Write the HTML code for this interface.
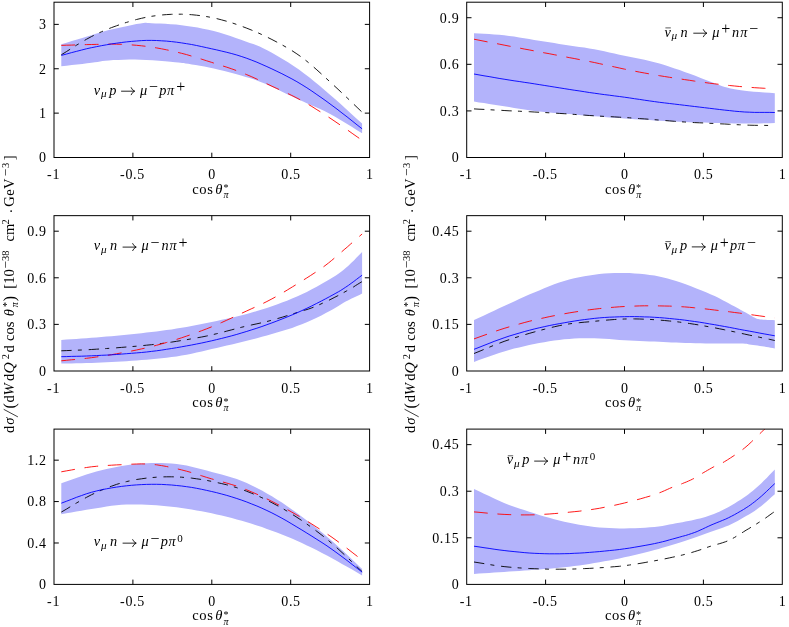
<!DOCTYPE html>
<html><head><meta charset="utf-8"><title>chart</title>
<style>html,body{margin:0;padding:0;background:#fff}svg{display:block;will-change:transform}</style></head><body>
<svg width="789" height="627" viewBox="0 0 789 627" font-family="Liberation Serif, serif" font-size="14.0" fill="#000">
<rect width="789" height="627" fill="#fff"/>
<clipPath id="c00"><rect x="54.0" y="2.2" width="315.6" height="155.30"/></clipPath>
<g clip-path="url(#c00)">
<polygon points="61.3,44.3 66.5,42.7 71.8,41.1 77.1,39.5 82.3,37.9 87.1,36.5 91.4,35.2 94.9,34.1 97.6,33.2 100.1,32.4 102.5,31.7 105.3,30.9 108.9,30.0 113.6,28.9 119.2,27.7 125.2,26.4 131.0,25.2 136.4,24.1 140.6,23.4 143.4,23.0 145.1,22.8 146.2,22.8 147.2,22.9 148.8,23.0 151.5,23.2 155.4,23.4 160.0,23.6 165.2,23.8 170.7,24.2 176.2,24.6 181.6,25.2 186.8,25.9 192.2,26.7 197.6,27.6 203.0,28.7 208.4,29.8 213.8,31.1 219.3,32.6 224.8,34.3 230.4,36.1 235.8,38.0 241.0,39.8 245.7,41.5 249.8,42.9 253.3,44.1 256.5,45.3 259.7,46.6 263.1,48.2 267.2,50.2 271.9,52.8 277.0,55.7 282.5,58.9 288.0,62.3 293.6,65.9 298.9,69.6 304.1,73.4 309.2,77.3 314.3,81.4 319.3,85.6 324.5,89.9 329.7,94.4 335.0,99.0 340.4,103.8 345.8,108.7 351.2,113.7 356.7,118.7 362.1,123.6 362.1,133.2 356.7,129.9 351.3,126.6 345.9,123.2 340.5,119.9 335.1,116.8 329.7,113.8 324.4,111.1 319.0,108.6 313.7,106.2 308.4,103.9 303.1,101.6 297.8,99.2 292.3,96.6 286.7,93.9 281.1,91.2 275.7,88.6 270.5,86.2 265.9,84.1 262.0,82.5 258.7,81.2 255.8,80.1 252.9,79.1 249.6,78.1 245.7,76.9 241.0,75.5 235.7,74.1 230.1,72.6 224.4,71.1 218.9,69.8 213.8,68.6 209.0,67.6 204.4,66.6 199.9,65.8 195.7,65.0 191.8,64.4 188.3,63.8 185.6,63.4 183.7,63.1 182.2,62.9 180.5,62.7 178.3,62.5 175.0,62.2 170.5,61.8 165.0,61.3 158.9,60.8 152.6,60.3 146.4,59.9 140.6,59.7 135.0,59.6 129.3,59.6 123.7,59.7 118.3,59.9 113.3,60.1 108.9,60.4 105.3,60.7 102.5,61.0 100.1,61.4 97.6,61.9 94.9,62.3 91.4,62.8 87.1,63.3 82.3,63.9 77.1,64.5 71.8,65.1 66.5,65.7 61.3,66.3" fill="#b3b3fb"/>
<polyline points="61.3,54.8 66.3,51.7 71.3,48.5 76.3,45.3 81.4,42.3 86.4,39.3 91.4,36.6 96.4,34.1 101.4,31.8 106.5,29.6 111.5,27.6 116.5,25.8 121.5,24.0 126.5,22.4 131.5,20.9 136.5,19.5 141.5,18.3 146.5,17.2 151.5,16.3 156.5,15.6 161.5,15.0 166.5,14.6 171.6,14.3 176.6,14.2 181.6,14.2 186.6,14.4 191.6,14.7 196.6,15.2 201.7,15.8 206.7,16.6 211.7,17.5 216.7,18.6 221.7,19.9 226.8,21.3 231.8,22.8 236.8,24.5 241.8,26.3 246.8,28.2 251.8,30.2 256.9,32.3 261.9,34.6 266.9,37.0 271.9,39.5 276.9,42.1 281.9,44.8 286.9,47.6 291.9,50.6 296.9,53.9 301.9,57.4 306.9,61.3 311.9,65.5 316.9,69.9 322.0,74.5 327.0,79.1 332.0,83.7 337.0,88.3 342.0,93.0 347.1,97.8 352.1,102.6 357.1,107.4 362.1,112.2" fill="none" stroke="#000000" stroke-width="0.9" stroke-dasharray="10.4,6.2,4.0,6.8"/>
<polyline points="61.3,45.4 66.3,45.2 71.3,45.1 76.3,44.9 81.4,44.7 86.4,44.6 91.4,44.5 96.4,44.4 101.4,44.3 106.5,44.2 111.5,44.1 116.5,44.2 121.5,44.3 126.5,44.6 131.5,44.9 136.5,45.3 141.5,45.8 146.5,46.4 151.5,47.1 156.5,47.9 161.5,48.8 166.5,49.8 171.6,50.9 176.6,52.1 181.6,53.3 186.6,54.6 191.6,56.1 196.6,57.6 201.7,59.2 206.7,60.8 211.7,62.4 216.7,64.0 221.7,65.6 226.8,67.2 231.8,68.9 236.8,70.7 241.8,72.6 246.8,74.7 251.8,76.8 256.9,79.1 261.9,81.5 266.9,83.8 271.9,86.2 276.9,88.5 281.9,90.8 286.9,93.1 291.9,95.5 296.9,98.0 301.9,100.7 306.9,103.5 311.9,106.5 316.9,109.7 322.0,112.8 327.0,116.1 332.0,119.4 337.0,122.8 342.0,126.2 347.1,129.7 352.1,133.3 357.1,136.8 362.1,140.3" fill="none" stroke="#ff0000" stroke-width="0.9" stroke-dasharray="13.8,9.7"/>
<polyline points="61.3,55.4 66.3,54.1 71.3,52.7 76.3,51.4 81.4,50.1 86.4,48.8 91.4,47.7 96.4,46.7 101.4,45.7 106.5,44.8 111.5,43.9 116.5,43.2 121.5,42.5 126.5,41.9 131.5,41.4 136.5,41.0 141.5,40.6 146.5,40.4 151.5,40.4 156.5,40.5 161.5,40.8 166.5,41.1 171.6,41.6 176.6,42.2 181.6,42.9 186.6,43.7 191.6,44.5 196.6,45.5 201.7,46.6 206.7,47.7 211.7,48.8 216.7,49.9 221.7,51.1 226.8,52.3 231.8,53.6 236.8,55.0 241.8,56.6 246.8,58.3 251.8,60.2 256.9,62.2 261.9,64.4 266.9,66.6 271.9,68.9 276.9,71.3 281.9,73.7 286.9,76.3 291.9,78.9 296.9,81.7 301.9,84.7 306.9,87.8 311.9,91.1 316.9,94.6 322.0,98.1 327.0,101.7 332.0,105.4 337.0,109.1 342.0,113.0 347.1,116.9 352.1,120.9 357.1,124.9 362.1,128.8" fill="none" stroke="#0000ff" stroke-width="0.9"/>
</g>
<rect x="54.0" y="2.2" width="315.6" height="155.30" fill="none" stroke="#000" stroke-width="1"/>
<path d="M54.0,113.13h4.8M369.6,113.13h-4.8M54.0,68.76h4.8M369.6,68.76h-4.8M54.0,24.39h4.8M369.6,24.39h-4.8M132.90,157.5v-4.8M132.90,2.2v4.8M211.80,157.5v-4.8M211.80,2.2v4.8M290.70,157.5v-4.8M290.70,2.2v4.8" stroke="#000" stroke-width="1" fill="none"/>
<text x="46.6" y="162.3" text-anchor="end" letter-spacing="0.65">0</text>
<text x="46.6" y="117.9" text-anchor="end" letter-spacing="0.65">1</text>
<text x="46.6" y="73.6" text-anchor="end" letter-spacing="0.65">2</text>
<text x="46.6" y="29.2" text-anchor="end" letter-spacing="0.65">3</text>
<text x="53.6" y="179.3" text-anchor="middle" letter-spacing="0.65">-1</text>
<text x="132.5" y="179.3" text-anchor="middle" letter-spacing="0.65">-0.5</text>
<text x="212.1" y="179.3" text-anchor="middle" letter-spacing="0.65">0</text>
<text x="291.0" y="179.3" text-anchor="middle" letter-spacing="0.65">0.5</text>
<text x="369.9" y="179.3" text-anchor="middle" letter-spacing="0.65">1</text>
<text x="192.35" y="193.50" font-size="14.6" letter-spacing="0.55">cos</text><text x="215.30" y="193.50" font-size="14.6" font-style="italic">θ</text><text x="223.40" y="191.10" font-size="10">*</text><text x="223.55" y="197.80" font-size="10" font-style="italic">π</text>
<clipPath id="c01"><rect x="466.7" y="2.2" width="315.6" height="155.30"/></clipPath>
<g clip-path="url(#c01)">
<polygon points="474.0,33.2 479.0,33.5 484.0,33.8 489.1,34.1 494.1,34.4 499.1,34.8 504.1,35.3 509.1,35.9 514.1,36.6 519.2,37.4 524.2,38.3 529.2,39.1 534.2,39.9 539.2,40.7 544.2,41.5 549.2,42.3 554.2,43.1 559.2,43.9 564.2,44.7 569.2,45.5 574.2,46.2 579.2,46.9 584.3,47.6 589.3,48.4 594.3,49.3 599.3,50.3 604.3,51.3 609.3,52.4 614.4,53.6 619.4,54.7 624.4,55.8 629.4,56.8 634.4,57.8 639.5,58.8 644.5,59.8 649.5,60.9 654.5,62.2 659.5,63.6 664.5,65.1 669.6,66.7 674.6,68.4 679.6,70.1 684.6,71.9 689.8,73.8 695.3,75.8 700.7,77.9 705.9,80.0 710.6,81.8 714.6,83.3 717.6,84.4 719.8,85.3 721.6,86.0 723.1,86.5 724.8,87.0 727.0,87.6 729.5,88.2 732.0,88.8 734.7,89.3 737.7,89.8 741.0,90.3 744.7,90.8 749.0,91.2 753.8,91.7 759.0,92.0 764.3,92.4 769.6,92.8 774.8,93.2 774.8,123.1 769.8,123.2 764.8,123.3 759.8,123.4 754.7,123.4 749.7,123.5 744.7,123.5 739.7,123.5 734.7,123.4 729.6,123.3 724.6,123.2 719.6,123.0 714.6,122.9 709.6,122.8 704.6,122.6 699.6,122.5 694.6,122.4 689.6,122.2 684.6,122.0 679.6,121.8 674.6,121.5 669.6,121.3 664.5,121.0 659.5,120.7 654.5,120.4 649.5,120.1 644.5,119.8 639.5,119.5 634.4,119.2 629.4,118.8 624.4,118.5 619.4,118.1 614.4,117.8 609.3,117.4 604.3,117.0 599.3,116.6 594.3,116.2 589.3,115.8 584.3,115.4 579.2,115.0 574.2,114.6 569.2,114.1 564.2,113.7 559.2,113.3 554.2,112.9 549.2,112.5 544.2,112.1 539.2,111.6 534.2,111.0 529.2,110.3 524.2,109.5 519.2,108.7 514.1,107.9 509.1,107.0 504.1,106.2 499.1,105.4 494.1,104.7 489.1,103.9 484.0,103.1 479.0,102.4 474.0,101.6" fill="#b3b3fb"/>
<polyline points="474.0,108.9 479.0,109.2 484.0,109.4 489.1,109.7 494.1,110.0 499.1,110.2 504.1,110.5 509.1,110.8 514.1,111.0 519.2,111.2 524.2,111.5 529.2,111.7 534.2,112.0 539.2,112.3 544.2,112.5 549.2,112.8 554.2,113.1 559.2,113.4 564.2,113.7 569.2,114.0 574.2,114.4 579.2,114.8 584.3,115.1 589.3,115.5 594.3,115.8 599.3,116.1 604.3,116.4 609.3,116.6 614.4,116.9 619.4,117.2 624.4,117.5 629.4,117.8 634.4,118.2 639.5,118.6 644.5,118.9 649.5,119.3 654.5,119.7 659.5,120.1 664.5,120.5 669.6,120.9 674.6,121.3 679.6,121.7 684.6,122.0 689.6,122.3 694.6,122.6 699.6,122.8 704.6,123.0 709.6,123.3 714.6,123.5 719.6,123.8 724.6,124.0 729.6,124.3 734.7,124.6 739.7,124.8 744.7,125.0 749.7,125.2 754.7,125.3 759.8,125.4 764.8,125.4 769.8,125.5 774.8,125.6" fill="none" stroke="#000000" stroke-width="0.9" stroke-dasharray="10.4,6.2,4.0,6.8"/>
<polyline points="474.0,39.2 479.0,40.2 484.0,41.2 489.1,42.2 494.1,43.1 499.1,44.1 504.1,45.1 509.1,46.1 514.1,47.0 519.2,48.0 524.2,49.0 529.2,49.9 534.2,50.9 539.2,51.9 544.2,52.8 549.2,53.7 554.2,54.7 559.2,55.6 564.2,56.6 569.2,57.6 574.2,58.5 579.2,59.5 584.3,60.5 589.3,61.5 594.3,62.5 599.3,63.6 604.3,64.7 609.3,65.8 614.4,66.9 619.4,68.0 624.4,69.1 629.4,70.1 634.4,71.1 639.5,72.1 644.5,73.0 649.5,73.9 654.5,74.8 659.5,75.7 664.5,76.5 669.6,77.3 674.6,78.1 679.6,78.8 684.6,79.6 689.6,80.3 694.6,81.1 699.6,81.8 704.6,82.5 709.6,83.2 714.6,83.8 719.6,84.4 724.6,85.0 729.6,85.5 734.7,86.0 739.7,86.5 744.7,86.9 749.7,87.3 754.7,87.7 759.8,88.0 764.8,88.3 769.8,88.7 774.8,89.0" fill="none" stroke="#ff0000" stroke-width="0.9" stroke-dasharray="13.8,9.7"/>
<polyline points="474.0,74.0 479.0,74.9 484.0,75.8 489.1,76.6 494.1,77.5 499.1,78.4 504.1,79.2 509.1,80.0 514.1,80.8 519.2,81.5 524.2,82.3 529.2,83.0 534.2,83.8 539.2,84.6 544.2,85.4 549.2,86.2 554.2,87.0 559.2,87.8 564.2,88.6 569.2,89.4 574.2,90.2 579.2,90.9 584.3,91.7 589.3,92.5 594.3,93.2 599.3,93.9 604.3,94.6 609.3,95.2 614.4,95.9 619.4,96.5 624.4,97.2 629.4,97.9 634.4,98.7 639.5,99.4 644.5,100.2 649.5,100.9 654.5,101.6 659.5,102.3 664.5,102.9 669.6,103.5 674.6,104.1 679.6,104.7 684.6,105.3 689.6,105.9 694.6,106.5 699.6,107.1 704.6,107.7 709.6,108.3 714.6,108.9 719.6,109.5 724.6,110.1 729.6,110.6 734.7,111.2 739.7,111.6 744.7,112.0 749.7,112.2 754.7,112.4 759.8,112.4 764.8,112.4 769.8,112.4 774.8,112.5" fill="none" stroke="#0000ff" stroke-width="0.9"/>
</g>
<rect x="466.7" y="2.2" width="315.6" height="155.30" fill="none" stroke="#000" stroke-width="1"/>
<path d="M466.7,110.91h4.8M782.3,110.91h-4.8M466.7,64.32h4.8M782.3,64.32h-4.8M466.7,17.73h4.8M782.3,17.73h-4.8M545.60,157.5v-4.8M545.60,2.2v4.8M624.50,157.5v-4.8M624.50,2.2v4.8M703.40,157.5v-4.8M703.40,2.2v4.8" stroke="#000" stroke-width="1" fill="none"/>
<text x="459.3" y="162.3" text-anchor="end" letter-spacing="0.65">0</text>
<text x="459.3" y="115.7" text-anchor="end" letter-spacing="0.65">0.3</text>
<text x="459.3" y="69.1" text-anchor="end" letter-spacing="0.65">0.6</text>
<text x="459.3" y="22.5" text-anchor="end" letter-spacing="0.65">0.9</text>
<text x="466.3" y="179.3" text-anchor="middle" letter-spacing="0.65">-1</text>
<text x="545.2" y="179.3" text-anchor="middle" letter-spacing="0.65">-0.5</text>
<text x="624.8" y="179.3" text-anchor="middle" letter-spacing="0.65">0</text>
<text x="703.7" y="179.3" text-anchor="middle" letter-spacing="0.65">0.5</text>
<text x="782.6" y="179.3" text-anchor="middle" letter-spacing="0.65">1</text>
<text x="605.05" y="193.50" font-size="14.6" letter-spacing="0.55">cos</text><text x="628.00" y="193.50" font-size="14.6" font-style="italic">θ</text><text x="636.10" y="191.10" font-size="10">*</text><text x="636.25" y="197.80" font-size="10" font-style="italic">π</text>
<clipPath id="c10"><rect x="54.0" y="215.65" width="315.6" height="155.35"/></clipPath>
<g clip-path="url(#c10)">
<polygon points="61.3,339.9 66.3,339.6 71.3,339.2 76.3,338.9 81.4,338.5 86.4,338.2 91.4,337.8 96.4,337.4 101.4,337.0 106.5,336.6 111.5,336.2 116.5,335.8 121.5,335.3 126.5,334.8 131.5,334.3 136.5,333.8 141.5,333.2 146.5,332.6 151.5,332.0 156.5,331.4 161.5,330.7 166.5,330.1 171.6,329.4 176.6,328.6 181.6,327.8 186.6,326.9 191.6,326.0 196.6,325.0 201.7,324.0 206.7,322.9 211.7,321.9 216.7,320.9 221.7,319.8 226.8,318.8 231.8,317.7 236.8,316.5 241.8,315.3 246.8,314.0 251.8,312.6 256.9,311.1 261.9,309.6 266.9,308.0 271.9,306.3 276.9,304.5 282.0,302.6 287.0,300.7 292.1,298.6 297.0,296.5 301.9,294.3 306.8,291.9 311.8,289.3 316.7,286.7 321.4,284.1 325.8,281.5 329.7,279.2 333.0,277.2 335.9,275.4 338.4,273.7 340.8,272.0 343.1,270.2 345.7,268.1 348.4,265.7 351.1,263.1 353.9,260.4 356.6,257.6 359.4,254.8 362.1,252.1 362.1,293.6 359.4,294.9 356.6,296.2 353.9,297.5 351.1,298.8 348.4,300.2 345.7,301.6 343.1,303.1 340.8,304.5 338.4,306.0 335.9,307.6 333.0,309.3 329.7,311.1 325.8,313.1 321.4,315.4 316.7,317.7 311.8,320.0 306.8,322.3 301.9,324.3 297.0,326.1 292.1,327.9 287.0,329.5 282.0,331.0 276.9,332.5 271.9,334.0 266.9,335.4 261.9,336.8 256.9,338.2 251.8,339.5 246.8,340.7 241.8,342.0 236.8,343.2 231.8,344.5 226.8,345.6 221.7,346.8 216.7,348.0 211.7,349.1 206.7,350.3 201.7,351.4 196.6,352.6 191.6,353.7 186.6,354.7 181.6,355.6 176.6,356.4 171.6,357.1 166.5,357.7 161.5,358.2 156.5,358.7 151.5,359.2 146.5,359.7 141.5,360.1 136.5,360.5 131.5,360.8 126.5,361.2 121.5,361.5 116.5,361.8 111.5,362.1 106.5,362.3 101.4,362.5 96.4,362.7 91.4,362.9 86.4,363.1 81.4,363.2 76.3,363.3 71.3,363.4 66.3,363.5 61.3,363.6" fill="#b3b3fb"/>
<polyline points="61.3,350.8 66.3,350.6 71.3,350.4 76.3,350.2 81.4,350.0 86.4,349.8 91.4,349.5 96.4,349.2 101.4,348.9 106.5,348.5 111.5,348.2 116.5,347.8 121.5,347.4 126.5,347.0 131.5,346.6 136.5,346.2 141.5,345.7 146.5,345.2 151.5,344.7 156.5,344.1 161.5,343.5 166.5,342.8 171.6,342.1 176.6,341.3 181.6,340.5 186.6,339.7 191.6,338.8 196.6,337.9 201.7,337.0 206.7,336.0 211.7,334.9 216.7,333.7 221.7,332.5 226.8,331.1 231.8,329.8 236.8,328.5 241.8,327.2 246.8,326.0 251.8,324.9 256.9,323.8 261.9,322.7 266.9,321.5 271.9,320.2 277.1,318.7 282.6,317.1 288.0,315.4 293.2,313.8 297.9,312.3 301.9,311.0 304.9,310.1 307.0,309.5 308.6,309.0 310.0,308.5 311.7,307.9 313.8,307.1 316.5,306.0 319.4,304.7 322.6,303.2 325.8,301.7 329.0,300.2 332.0,298.7 334.9,297.2 337.9,295.7 340.8,294.1 343.6,292.6 346.3,291.1 348.9,289.6 351.3,288.2 353.6,286.9 355.7,285.5 357.8,284.2 359.9,282.9 362.1,281.6" fill="none" stroke="#000000" stroke-width="0.9" stroke-dasharray="10.4,6.2,4.0,6.8"/>
<polyline points="61.3,360.8 66.3,360.3 71.3,359.8 76.3,359.4 81.4,358.9 86.4,358.3 91.4,357.7 96.4,357.0 101.4,356.3 106.5,355.5 111.5,354.7 116.5,353.8 121.5,352.9 126.5,352.0 131.5,351.0 136.5,350.0 141.5,348.9 146.5,347.8 151.5,346.6 156.5,345.3 161.5,343.9 166.5,342.5 171.6,341.0 176.6,339.4 181.6,337.8 186.6,336.1 191.6,334.4 196.6,332.6 201.7,330.7 206.7,328.8 211.7,326.8 216.7,324.7 221.7,322.5 226.8,320.2 231.8,317.9 236.8,315.5 241.8,313.2 246.8,310.9 251.8,308.6 256.9,306.3 261.9,304.0 266.9,301.5 271.9,298.9 277.0,296.1 282.2,293.1 287.3,290.0 292.4,286.9 297.3,283.9 301.9,281.0 306.2,278.3 310.3,275.7 314.1,273.2 317.9,270.8 321.5,268.3 325.0,265.7 328.4,263.1 331.7,260.4 334.9,257.7 338.0,255.0 341.0,252.4 344.1,249.7 347.2,247.1 350.2,244.4 353.2,241.8 356.1,239.2 359.1,236.6 362.1,234.0" fill="none" stroke="#ff0000" stroke-width="0.9" stroke-dasharray="13.8,9.7"/>
<polyline points="61.3,356.7 66.3,356.6 71.3,356.4 76.3,356.3 81.4,356.2 86.4,356.0 91.4,355.8 96.4,355.6 101.4,355.3 106.5,355.1 111.5,354.8 116.5,354.5 121.5,354.1 126.5,353.7 131.5,353.3 136.5,352.9 141.5,352.5 146.5,352.0 151.5,351.4 156.5,350.8 161.5,350.1 166.5,349.3 171.6,348.5 176.6,347.7 181.6,346.8 186.6,345.9 191.6,345.0 196.6,344.0 201.7,343.0 206.7,341.9 211.7,340.8 216.7,339.6 221.7,338.4 226.8,337.1 231.8,335.8 236.8,334.4 241.8,332.9 246.8,331.4 251.8,329.8 256.9,328.2 261.9,326.5 266.9,324.7 271.9,322.9 276.9,321.0 282.0,319.0 287.0,317.0 292.1,314.9 297.0,312.8 301.9,310.6 306.8,308.3 311.8,305.9 316.7,303.4 321.4,301.0 325.8,298.7 329.7,296.6 333.0,294.8 335.9,293.2 338.4,291.8 340.8,290.4 343.1,288.9 345.7,287.2 348.4,285.4 351.1,283.4 353.9,281.4 356.6,279.3 359.4,277.2 362.1,275.2" fill="none" stroke="#0000ff" stroke-width="0.9"/>
</g>
<rect x="54.0" y="215.65" width="315.6" height="155.35" fill="none" stroke="#000" stroke-width="1"/>
<path d="M54.0,324.39h4.8M369.6,324.39h-4.8M54.0,277.79h4.8M369.6,277.79h-4.8M54.0,231.19h4.8M369.6,231.19h-4.8M132.90,371.0v-4.8M132.90,215.65v4.8M211.80,371.0v-4.8M211.80,215.65v4.8M290.70,371.0v-4.8M290.70,215.65v4.8" stroke="#000" stroke-width="1" fill="none"/>
<text x="46.6" y="375.8" text-anchor="end" letter-spacing="0.65">0</text>
<text x="46.6" y="329.2" text-anchor="end" letter-spacing="0.65">0.3</text>
<text x="46.6" y="282.6" text-anchor="end" letter-spacing="0.65">0.6</text>
<text x="46.6" y="236.0" text-anchor="end" letter-spacing="0.65">0.9</text>
<text x="53.6" y="392.8" text-anchor="middle" letter-spacing="0.65">-1</text>
<text x="132.5" y="392.8" text-anchor="middle" letter-spacing="0.65">-0.5</text>
<text x="212.1" y="392.8" text-anchor="middle" letter-spacing="0.65">0</text>
<text x="291.0" y="392.8" text-anchor="middle" letter-spacing="0.65">0.5</text>
<text x="369.9" y="392.8" text-anchor="middle" letter-spacing="0.65">1</text>
<text x="192.35" y="407.00" font-size="14.6" letter-spacing="0.55">cos</text><text x="215.30" y="407.00" font-size="14.6" font-style="italic">θ</text><text x="223.40" y="404.60" font-size="10">*</text><text x="223.55" y="411.30" font-size="10" font-style="italic">π</text>
<clipPath id="c11"><rect x="466.7" y="215.65" width="315.6" height="155.35"/></clipPath>
<g clip-path="url(#c11)">
<polygon points="474.0,320.1 479.0,317.7 484.0,315.4 489.1,313.0 494.1,310.7 499.1,308.3 504.1,306.0 509.1,303.7 514.1,301.4 519.2,299.1 524.2,296.8 529.2,294.6 534.2,292.5 539.2,290.4 544.2,288.3 549.2,286.2 554.2,284.3 559.2,282.5 564.2,280.9 569.2,279.5 574.2,278.3 579.2,277.2 584.3,276.2 589.3,275.4 594.3,274.7 599.3,274.1 604.3,273.6 609.3,273.3 614.4,273.1 619.4,273.0 624.4,273.0 629.5,273.1 634.6,273.4 639.7,273.8 644.8,274.3 649.7,274.9 654.5,275.6 659.0,276.4 663.4,277.4 667.6,278.5 671.8,279.7 676.1,281.0 680.7,282.5 685.7,284.2 691.0,286.2 696.4,288.4 701.7,290.5 706.6,292.6 711.0,294.5 714.7,296.1 717.8,297.6 720.6,299.1 723.2,300.4 725.8,301.8 728.6,303.3 731.6,304.9 734.7,306.6 737.9,308.3 740.9,309.9 743.6,311.4 746.1,312.8 748.2,314.0 750.0,315.1 751.6,316.0 753.1,316.9 754.4,317.6 755.7,318.2 756.8,318.7 757.6,319.0 758.4,319.1 759.2,319.3 760.1,319.4 761.5,319.5 763.3,319.7 765.4,319.8 767.7,319.9 770.1,320.0 772.5,320.1 774.8,320.2 774.8,348.4 772.7,348.0 770.6,347.7 768.5,347.3 766.3,347.0 764.2,346.6 762.1,346.3 759.9,346.0 757.6,345.6 755.3,345.3 753.1,344.9 751.1,344.7 749.3,344.4 748.2,344.2 747.6,344.0 747.3,343.9 746.7,343.8 745.4,343.7 742.9,343.6 739.0,343.6 734.1,343.5 728.4,343.6 722.5,343.6 716.5,343.5 711.0,343.5 705.8,343.4 700.6,343.3 695.5,343.2 690.4,343.0 685.5,342.9 680.7,342.7 676.1,342.5 671.8,342.4 667.6,342.2 663.4,342.0 659.0,341.8 654.5,341.6 649.7,341.4 644.8,341.2 639.7,341.0 634.6,340.8 629.5,340.6 624.4,340.3 619.4,340.0 614.4,339.5 609.3,339.1 604.3,338.7 599.3,338.4 594.3,338.2 589.3,338.2 584.3,338.2 579.2,338.3 574.2,338.5 569.2,338.9 564.2,339.3 559.2,339.9 554.2,340.5 549.2,341.3 544.2,342.2 539.2,343.1 534.2,344.1 529.2,345.1 524.2,346.2 519.2,347.4 514.1,348.6 509.1,350.0 504.1,351.4 499.1,353.0 494.1,354.7 489.1,356.4 484.0,358.3 479.0,360.1 474.0,361.9" fill="#b3b3fb"/>
<polyline points="474.0,353.5 479.0,351.5 484.0,349.4 489.1,347.3 494.1,345.2 499.1,343.3 504.1,341.4 509.1,339.7 514.1,338.0 519.2,336.4 524.2,334.9 529.2,333.4 534.2,332.0 539.2,330.6 544.2,329.3 549.2,328.0 554.2,326.8 559.2,325.7 564.2,324.7 569.2,323.9 574.2,323.2 579.2,322.7 584.3,322.2 589.3,321.8 594.3,321.3 599.3,320.8 604.3,320.3 609.3,319.9 614.4,319.5 619.4,319.2 624.4,319.0 629.4,318.9 634.4,318.9 639.5,319.0 644.5,319.2 649.5,319.4 654.5,319.7 659.5,320.1 664.5,320.5 669.6,321.0 674.6,321.5 679.6,322.1 684.6,322.8 689.6,323.5 694.6,324.3 699.6,325.1 704.6,326.0 709.6,326.9 714.6,327.8 719.6,328.8 724.6,329.8 729.6,330.9 734.7,331.9 739.7,333.0 744.7,334.1 749.7,335.2 754.7,336.2 759.8,337.3 764.8,338.4 769.8,339.4 774.8,340.5" fill="none" stroke="#000000" stroke-width="0.9" stroke-dasharray="10.4,6.2,4.0,6.8"/>
<polyline points="474.0,338.9 479.0,337.1 484.0,335.3 489.1,333.5 494.1,331.7 499.1,330.0 504.1,328.4 509.1,326.9 514.1,325.4 519.2,324.0 524.2,322.6 529.2,321.3 534.2,320.1 539.2,318.9 544.2,317.8 549.2,316.7 554.2,315.7 559.2,314.7 564.2,313.8 569.2,312.9 574.2,312.1 579.2,311.3 584.3,310.5 589.3,309.8 594.3,309.2 599.3,308.6 604.3,308.1 609.3,307.6 614.4,307.2 619.4,306.8 624.4,306.5 629.4,306.2 634.4,306.1 639.5,305.9 644.5,305.8 649.5,305.8 654.5,305.8 659.5,305.9 664.5,306.0 669.6,306.1 674.6,306.3 679.6,306.6 684.6,306.9 689.6,307.3 694.6,307.8 699.6,308.3 704.6,308.8 709.6,309.4 714.6,310.0 719.6,310.6 724.6,311.2 729.6,311.8 734.7,312.5 739.7,313.1 744.7,313.8 749.7,314.5 754.7,315.2 759.8,315.9 764.8,316.6 769.8,317.3 774.8,318.0" fill="none" stroke="#ff0000" stroke-width="0.9" stroke-dasharray="13.8,9.7"/>
<polyline points="474.0,349.3 479.0,347.4 484.0,345.4 489.1,343.4 494.1,341.4 499.1,339.6 504.1,337.8 509.1,336.1 514.1,334.6 519.2,333.1 524.2,331.6 529.2,330.3 534.2,329.0 539.2,327.8 544.2,326.7 549.2,325.6 554.2,324.6 559.2,323.7 564.2,322.8 569.2,321.9 574.2,321.1 579.2,320.3 584.3,319.6 589.3,319.0 594.3,318.4 599.3,317.9 604.3,317.5 609.3,317.2 614.4,317.0 619.4,316.8 624.4,316.7 629.4,316.6 634.4,316.6 639.5,316.7 644.5,316.9 649.5,317.0 654.5,317.3 659.5,317.6 664.5,318.0 669.6,318.5 674.6,319.0 679.6,319.5 684.6,320.1 689.6,320.8 694.6,321.5 699.6,322.2 704.6,323.0 709.6,323.9 714.6,324.7 719.6,325.6 724.6,326.5 729.6,327.4 734.7,328.4 739.7,329.4 744.7,330.3 749.7,331.2 754.7,332.1 759.8,333.1 764.8,334.0 769.8,334.9 774.8,335.8" fill="none" stroke="#0000ff" stroke-width="0.9"/>
</g>
<rect x="466.7" y="215.65" width="315.6" height="155.35" fill="none" stroke="#000" stroke-width="1"/>
<path d="M466.7,324.39h4.8M782.3,324.39h-4.8M466.7,277.79h4.8M782.3,277.79h-4.8M466.7,231.19h4.8M782.3,231.19h-4.8M545.60,371.0v-4.8M545.60,215.65v4.8M624.50,371.0v-4.8M624.50,215.65v4.8M703.40,371.0v-4.8M703.40,215.65v4.8" stroke="#000" stroke-width="1" fill="none"/>
<text x="459.3" y="375.8" text-anchor="end" letter-spacing="0.65">0</text>
<text x="459.3" y="329.2" text-anchor="end" letter-spacing="0.65">0.15</text>
<text x="459.3" y="282.6" text-anchor="end" letter-spacing="0.65">0.3</text>
<text x="459.3" y="236.0" text-anchor="end" letter-spacing="0.65">0.45</text>
<text x="466.3" y="392.8" text-anchor="middle" letter-spacing="0.65">-1</text>
<text x="545.2" y="392.8" text-anchor="middle" letter-spacing="0.65">-0.5</text>
<text x="624.8" y="392.8" text-anchor="middle" letter-spacing="0.65">0</text>
<text x="703.7" y="392.8" text-anchor="middle" letter-spacing="0.65">0.5</text>
<text x="782.6" y="392.8" text-anchor="middle" letter-spacing="0.65">1</text>
<text x="605.05" y="407.00" font-size="14.6" letter-spacing="0.55">cos</text><text x="628.00" y="407.00" font-size="14.6" font-style="italic">θ</text><text x="636.10" y="404.60" font-size="10">*</text><text x="636.25" y="411.30" font-size="10" font-style="italic">π</text>
<clipPath id="c20"><rect x="54.0" y="429.1" width="315.6" height="155.30"/></clipPath>
<g clip-path="url(#c20)">
<polygon points="61.3,483.3 66.3,481.5 71.3,479.7 76.3,477.9 81.4,476.2 86.4,474.5 91.4,473.0 96.4,471.6 101.4,470.3 106.5,469.1 111.5,468.0 116.5,467.0 121.5,466.1 126.5,465.3 131.5,464.6 136.5,464.0 141.5,463.5 146.5,463.2 151.5,463.0 156.5,462.9 161.5,463.0 166.5,463.2 171.6,463.5 176.6,464.0 181.6,464.7 186.6,465.6 191.6,466.7 196.6,467.9 201.7,469.2 206.7,470.6 211.7,472.0 216.7,473.3 221.7,474.6 226.8,476.0 231.8,477.5 236.8,479.1 241.8,481.0 246.8,483.1 251.8,485.4 256.9,487.9 261.9,490.6 266.9,493.4 271.9,496.3 276.9,499.4 281.9,502.6 286.9,505.9 291.9,509.4 296.9,513.0 301.9,516.7 306.9,520.5 311.9,524.4 316.9,528.4 322.0,532.5 327.0,536.7 332.0,541.0 337.0,545.5 342.0,550.1 347.1,554.8 352.1,559.5 357.1,564.3 362.1,569.0 362.1,575.4 357.1,572.5 352.1,569.6 347.1,566.7 342.0,563.9 337.0,561.0 332.0,558.3 327.0,555.6 322.0,553.0 316.9,550.3 311.9,547.8 306.9,545.4 301.9,543.0 296.9,540.7 291.9,538.6 286.9,536.5 281.9,534.5 276.9,532.6 271.9,530.7 266.9,528.9 261.9,527.1 256.9,525.5 251.8,523.8 246.8,522.3 241.8,520.8 236.8,519.4 231.8,518.0 226.8,516.8 221.7,515.5 216.7,514.4 211.7,513.3 206.7,512.3 201.7,511.3 196.6,510.4 191.6,509.5 186.6,508.7 181.6,508.0 176.6,507.3 171.6,506.7 166.5,506.2 161.5,505.7 156.5,505.3 151.5,505.0 146.5,504.8 141.5,504.6 136.5,504.5 131.5,504.4 126.5,504.5 121.5,504.8 116.5,505.2 111.5,505.8 106.5,506.6 101.4,507.4 96.4,508.2 91.4,509.0 86.4,509.8 81.4,510.7 76.3,511.5 71.3,512.4 66.3,513.3 61.3,514.2" fill="#b3b3fb"/>
<polyline points="61.3,512.1 66.3,509.2 71.3,506.1 76.3,503.1 81.4,500.2 86.4,497.4 91.4,494.8 96.4,492.4 101.4,490.2 106.5,488.1 111.5,486.2 116.5,484.4 121.5,482.9 126.5,481.6 131.5,480.5 136.5,479.5 141.5,478.8 146.5,478.1 151.5,477.6 156.5,477.2 161.5,476.9 166.5,476.8 171.6,476.8 176.6,476.9 181.6,477.2 186.6,477.6 191.6,478.1 196.6,478.8 201.7,479.5 206.7,480.4 211.7,481.4 216.7,482.5 221.7,483.6 226.8,484.8 231.8,486.2 236.8,487.7 241.8,489.4 246.8,491.3 251.8,493.3 256.9,495.4 261.9,497.7 266.9,500.2 271.9,502.7 276.9,505.4 281.9,508.1 286.9,511.0 291.9,514.1 296.9,517.3 301.9,520.6 306.9,524.1 311.9,527.7 316.9,531.4 322.0,535.3 327.0,539.3 332.0,543.5 337.0,547.9 342.0,552.5 347.1,557.2 352.1,562.0 357.1,566.9 362.1,571.6" fill="none" stroke="#000000" stroke-width="0.9" stroke-dasharray="10.4,6.2,4.0,6.8"/>
<polyline points="61.3,471.8 66.3,470.9 71.3,470.0 76.3,469.1 81.4,468.3 86.4,467.5 91.4,466.8 96.4,466.3 101.4,465.8 106.5,465.5 111.5,465.2 116.5,464.9 121.5,464.7 126.5,464.5 131.5,464.2 136.5,464.0 141.5,463.9 146.5,464.0 151.5,464.3 156.5,464.8 161.5,465.6 166.5,466.5 171.6,467.6 176.6,468.7 181.6,469.9 186.6,471.2 191.6,472.6 196.6,474.2 201.7,475.8 206.7,477.4 211.7,478.9 216.7,480.3 221.7,481.7 226.8,483.1 231.8,484.6 236.8,486.1 241.8,487.9 246.8,489.9 251.8,492.0 256.9,494.2 261.9,496.5 266.9,498.9 271.9,501.4 276.9,504.0 281.9,506.6 286.9,509.3 291.9,512.2 296.9,515.0 301.9,518.0 306.9,521.0 311.9,524.1 316.9,527.3 322.0,530.5 327.0,533.9 332.0,537.3 337.0,540.9 342.0,544.6 347.1,548.4 352.1,552.3 357.1,556.2 362.1,560.0" fill="none" stroke="#ff0000" stroke-width="0.9" stroke-dasharray="13.8,9.7"/>
<polyline points="61.3,503.2 66.3,501.3 71.3,499.4 76.3,497.4 81.4,495.6 86.4,493.8 91.4,492.3 96.4,491.0 101.4,489.8 106.5,488.8 111.5,487.9 116.5,487.1 121.5,486.4 126.5,485.8 131.5,485.3 136.5,484.9 141.5,484.6 146.5,484.4 151.5,484.3 156.5,484.3 161.5,484.4 166.5,484.7 171.6,485.0 176.6,485.5 181.6,486.0 186.6,486.7 191.6,487.4 196.6,488.3 201.7,489.3 206.7,490.4 211.7,491.5 216.7,492.7 221.7,494.0 226.8,495.4 231.8,496.9 236.8,498.5 241.8,500.2 246.8,502.0 251.8,504.0 256.9,506.0 261.9,508.2 266.9,510.5 271.9,512.9 276.9,515.5 281.9,518.2 286.9,521.0 291.9,524.0 296.9,527.0 301.9,530.0 306.9,533.1 311.9,536.2 316.9,539.4 322.0,542.6 327.0,545.9 332.0,549.4 337.0,553.0 342.0,556.7 347.1,560.5 352.1,564.4 357.1,568.3 362.1,572.1" fill="none" stroke="#0000ff" stroke-width="0.9"/>
</g>
<rect x="54.0" y="429.1" width="315.6" height="155.30" fill="none" stroke="#000" stroke-width="1"/>
<path d="M54.0,542.99h4.8M369.6,542.99h-4.8M54.0,501.57h4.8M369.6,501.57h-4.8M54.0,460.16h4.8M369.6,460.16h-4.8M132.90,584.4v-4.8M132.90,429.1v4.8M211.80,584.4v-4.8M211.80,429.1v4.8M290.70,584.4v-4.8M290.70,429.1v4.8" stroke="#000" stroke-width="1" fill="none"/>
<text x="46.6" y="589.2" text-anchor="end" letter-spacing="0.65">0</text>
<text x="46.6" y="547.8" text-anchor="end" letter-spacing="0.65">0.4</text>
<text x="46.6" y="506.4" text-anchor="end" letter-spacing="0.65">0.8</text>
<text x="46.6" y="465.0" text-anchor="end" letter-spacing="0.65">1.2</text>
<text x="53.6" y="606.2" text-anchor="middle" letter-spacing="0.65">-1</text>
<text x="132.5" y="606.2" text-anchor="middle" letter-spacing="0.65">-0.5</text>
<text x="212.1" y="606.2" text-anchor="middle" letter-spacing="0.65">0</text>
<text x="291.0" y="606.2" text-anchor="middle" letter-spacing="0.65">0.5</text>
<text x="369.9" y="606.2" text-anchor="middle" letter-spacing="0.65">1</text>
<text x="192.35" y="620.40" font-size="14.6" letter-spacing="0.55">cos</text><text x="215.30" y="620.40" font-size="14.6" font-style="italic">θ</text><text x="223.40" y="618.00" font-size="10">*</text><text x="223.55" y="624.70" font-size="10" font-style="italic">π</text>
<clipPath id="c21"><rect x="466.7" y="429.1" width="315.6" height="155.30"/></clipPath>
<g clip-path="url(#c21)">
<polygon points="474.0,488.9 479.0,491.3 484.0,493.7 489.1,496.1 494.1,498.5 499.1,500.8 504.1,502.9 509.1,504.9 514.1,506.7 519.2,508.4 524.2,510.1 529.2,511.7 534.2,513.3 539.2,514.9 544.2,516.4 549.2,517.8 554.2,519.2 559.2,520.5 564.2,521.7 569.2,522.8 574.2,523.8 579.2,524.7 584.3,525.6 589.3,526.3 594.3,526.9 599.3,527.4 604.3,527.8 609.3,528.1 614.4,528.3 619.4,528.4 624.4,528.4 629.5,528.3 634.8,528.2 640.0,528.0 645.1,527.7 650.0,527.3 654.5,526.9 658.6,526.4 662.4,525.9 666.0,525.2 669.4,524.6 672.7,523.9 676.0,523.3 679.3,522.7 682.4,522.2 685.5,521.6 688.4,521.1 691.4,520.5 694.3,519.8 697.2,519.1 700.0,518.4 702.7,517.7 705.4,516.9 708.2,516.0 711.0,515.0 713.9,513.9 716.8,512.7 719.8,511.4 722.7,510.0 725.7,508.5 728.6,507.0 731.6,505.3 734.6,503.5 737.6,501.6 740.6,499.7 743.5,497.7 746.1,495.9 748.5,494.2 750.6,492.6 752.6,491.0 754.6,489.3 756.6,487.5 758.9,485.5 761.4,483.2 764.0,480.6 766.7,477.9 769.4,475.1 772.1,472.3 774.8,469.6 774.8,494.3 772.1,496.6 769.4,499.0 766.7,501.4 764.0,503.7 761.4,505.9 758.9,507.8 756.6,509.5 754.6,510.9 752.6,512.2 750.6,513.5 748.5,514.7 746.1,516.1 743.5,517.6 740.6,519.2 737.6,520.9 734.6,522.5 731.6,524.0 728.6,525.4 725.7,526.6 722.7,527.8 719.8,528.8 716.8,529.8 713.9,530.8 711.0,531.8 708.2,532.8 705.4,533.8 702.7,534.8 700.0,535.7 697.2,536.7 694.3,537.7 691.4,538.7 688.4,539.7 685.5,540.7 682.4,541.7 679.3,542.7 676.0,543.7 672.7,544.7 669.4,545.7 666.0,546.8 662.4,547.8 658.6,548.9 654.5,550.0 650.0,551.2 645.1,552.4 640.0,553.7 634.8,554.9 629.5,556.2 624.4,557.3 619.4,558.4 614.4,559.4 609.3,560.4 604.3,561.3 599.3,562.2 594.3,563.1 589.3,563.9 584.3,564.7 579.2,565.4 574.2,566.1 569.2,566.7 564.2,567.3 559.2,567.8 554.2,568.3 549.2,568.7 544.2,569.1 539.2,569.4 534.2,569.8 529.2,570.2 524.2,570.5 519.2,570.9 514.1,571.2 509.1,571.6 504.1,571.9 499.1,572.3 494.1,572.6 489.1,573.0 484.0,573.3 479.0,573.6 474.0,574.0" fill="#b3b3fb"/>
<polyline points="474.0,562.0 479.0,562.8 484.0,563.6 489.1,564.5 494.1,565.3 499.1,566.0 504.1,566.6 509.1,567.1 514.1,567.5 519.2,567.9 524.2,568.2 529.2,568.5 534.2,568.7 539.2,568.9 544.2,569.0 549.2,569.2 554.2,569.2 559.2,569.2 564.2,569.2 569.2,569.1 574.2,569.0 579.2,568.8 584.3,568.6 589.3,568.4 594.3,568.1 599.3,567.8 604.3,567.5 609.3,567.1 614.4,566.7 619.4,566.3 624.4,565.7 629.5,565.0 634.8,564.2 640.0,563.4 645.1,562.5 650.0,561.6 654.5,560.8 658.6,560.1 662.4,559.3 666.0,558.6 669.4,557.9 672.7,557.2 676.0,556.5 679.3,555.7 682.4,555.0 685.5,554.2 688.4,553.4 691.4,552.6 694.3,551.7 697.2,550.8 700.0,549.9 702.7,549.0 705.4,548.0 708.2,547.0 711.0,546.1 713.9,545.2 716.8,544.4 719.8,543.6 722.7,542.7 725.7,541.7 728.6,540.5 731.6,539.0 734.6,537.4 737.5,535.6 740.5,533.7 743.4,531.9 746.1,530.2 748.7,528.7 751.1,527.2 753.5,525.8 755.8,524.4 758.1,522.9 760.5,521.4 762.9,519.8 765.3,518.2 767.7,516.5 770.0,514.8 772.4,513.1 774.8,511.4" fill="none" stroke="#000000" stroke-width="0.9" stroke-dasharray="10.4,6.2,4.0,6.8"/>
<polyline points="474.0,511.9 479.0,512.3 484.0,512.8 489.1,513.3 494.1,513.7 499.1,514.1 504.1,514.4 509.1,514.6 514.1,514.8 519.2,514.9 524.2,514.9 529.2,514.9 534.2,514.8 539.2,514.6 544.2,514.3 549.2,514.0 554.2,513.6 559.2,513.2 564.2,512.7 569.2,512.2 574.2,511.7 579.2,511.2 584.3,510.5 589.3,509.9 594.3,509.1 599.3,508.3 604.3,507.3 609.3,506.4 614.4,505.3 619.4,504.2 624.4,503.0 629.6,501.7 634.9,500.3 640.2,498.9 645.4,497.4 650.2,496.0 654.5,494.6 658.2,493.3 661.5,492.0 664.5,490.7 667.2,489.5 669.6,488.4 672.0,487.4 674.1,486.6 675.9,485.9 677.5,485.4 679.0,484.9 680.6,484.3 682.3,483.6 684.2,482.8 686.3,482.0 688.3,481.1 690.4,480.2 692.4,479.2 694.3,478.3 696.0,477.4 697.6,476.4 699.2,475.4 700.7,474.4 702.2,473.4 703.9,472.4 705.7,471.4 707.5,470.3 709.5,469.2 711.4,468.1 713.2,467.1 715.0,466.1 716.6,465.4 717.9,464.8 719.2,464.3 720.7,463.7 722.4,462.9 724.6,461.6 727.4,459.9 730.5,457.9 734.0,455.6 737.7,453.2 741.3,450.6 744.7,447.9 748.1,445.0 751.5,441.8 755.0,438.5 758.3,435.2 761.4,432.2 764.1,429.5 766.4,427.3 768.3,425.4 770.0,423.8 771.6,422.2 773.1,420.7 774.8,419.0" fill="none" stroke="#ff0000" stroke-width="0.9" stroke-dasharray="13.8,9.7"/>
<polyline points="474.0,546.2 479.0,546.9 484.0,547.7 489.1,548.4 494.1,549.2 499.1,549.9 504.1,550.5 509.1,551.1 514.1,551.6 519.2,552.1 524.2,552.6 529.2,553.0 534.2,553.3 539.2,553.5 544.2,553.7 549.2,553.8 554.2,553.8 559.2,553.8 564.2,553.7 569.2,553.6 574.2,553.3 579.2,553.1 584.3,552.8 589.3,552.4 594.3,552.0 599.3,551.6 604.3,551.1 609.3,550.6 614.4,550.1 619.4,549.5 624.4,548.8 629.5,548.1 634.8,547.2 640.0,546.3 645.1,545.4 650.0,544.5 654.5,543.6 658.6,542.7 662.4,541.8 666.0,540.9 669.4,539.9 672.7,539.0 676.0,538.1 679.3,537.2 682.4,536.3 685.5,535.5 688.4,534.6 691.4,533.6 694.3,532.6 697.2,531.5 700.0,530.2 702.7,529.0 705.4,527.7 708.2,526.4 711.0,525.1 713.9,523.9 716.8,522.7 719.8,521.5 722.7,520.3 725.7,519.1 728.6,517.7 731.6,516.2 734.6,514.6 737.6,512.9 740.6,511.2 743.5,509.5 746.1,507.8 748.5,506.3 750.6,504.8 752.6,503.3 754.6,501.8 756.6,500.2 758.9,498.3 761.4,496.2 764.0,493.8 766.7,491.3 769.4,488.7 772.1,486.1 774.8,483.6" fill="none" stroke="#0000ff" stroke-width="0.9"/>
</g>
<rect x="466.7" y="429.1" width="315.6" height="155.30" fill="none" stroke="#000" stroke-width="1"/>
<path d="M466.7,537.81h4.8M782.3,537.81h-4.8M466.7,491.22h4.8M782.3,491.22h-4.8M466.7,444.63h4.8M782.3,444.63h-4.8M545.60,584.4v-4.8M545.60,429.1v4.8M624.50,584.4v-4.8M624.50,429.1v4.8M703.40,584.4v-4.8M703.40,429.1v4.8" stroke="#000" stroke-width="1" fill="none"/>
<text x="459.3" y="589.2" text-anchor="end" letter-spacing="0.65">0</text>
<text x="459.3" y="542.6" text-anchor="end" letter-spacing="0.65">0.15</text>
<text x="459.3" y="496.0" text-anchor="end" letter-spacing="0.65">0.3</text>
<text x="459.3" y="449.4" text-anchor="end" letter-spacing="0.65">0.45</text>
<text x="466.3" y="606.2" text-anchor="middle" letter-spacing="0.65">-1</text>
<text x="545.2" y="606.2" text-anchor="middle" letter-spacing="0.65">-0.5</text>
<text x="624.8" y="606.2" text-anchor="middle" letter-spacing="0.65">0</text>
<text x="703.7" y="606.2" text-anchor="middle" letter-spacing="0.65">0.5</text>
<text x="782.6" y="606.2" text-anchor="middle" letter-spacing="0.65">1</text>
<text x="605.05" y="620.40" font-size="14.6" letter-spacing="0.55">cos</text><text x="628.00" y="620.40" font-size="14.6" font-style="italic">θ</text><text x="636.10" y="618.00" font-size="10">*</text><text x="636.25" y="624.70" font-size="10" font-style="italic">π</text>
<text x="93.70" y="94.50" font-size="14.3" font-style="italic">ν</text>
<text x="100.91" y="96.80" font-size="11.2" font-style="italic">μ</text>
<text x="109.24" y="94.50" font-size="14.3" font-style="italic">p</text>
<path d="M121.10,91.20h13.6M131.00,87.30q1.1,2.9 3.7,3.9q-2.6,1.0 -3.7,3.9" fill="none" stroke="#000" stroke-width="0.85"/>
<text x="140.11" y="94.50" font-size="14.3" font-style="italic">μ</text>
<text x="149.10" y="91.90" font-size="16">−</text>
<text x="159.34" y="94.50" font-size="14.3" font-style="italic">p</text>
<text x="167.03" y="94.50" font-size="14.3" font-style="italic">π</text>
<text x="176.20" y="92.30" font-size="16">+</text>
<text x="93.70" y="250.40" font-size="14.3" font-style="italic">ν</text>
<text x="100.91" y="252.70" font-size="11.2" font-style="italic">μ</text>
<text x="109.89" y="250.40" font-size="14.3" font-style="italic">n</text>
<path d="M122.60,247.10h13.6M132.50,243.20q1.1,2.9 3.7,3.9q-2.6,1.0 -3.7,3.9" fill="none" stroke="#000" stroke-width="0.85"/>
<text x="141.61" y="250.40" font-size="14.3" font-style="italic">μ</text>
<text x="150.60" y="247.80" font-size="16">−</text>
<text x="161.39" y="250.40" font-size="14.3" font-style="italic">n</text>
<text x="169.43" y="250.40" font-size="14.3" font-style="italic">π</text>
<text x="178.60" y="248.20" font-size="16">+</text>
<text x="93.70" y="546.45" font-size="14.3" font-style="italic">ν</text>
<text x="100.91" y="548.75" font-size="11.2" font-style="italic">μ</text>
<text x="109.89" y="546.45" font-size="14.3" font-style="italic">n</text>
<path d="M122.60,543.15h13.6M132.50,539.25q1.1,2.9 3.7,3.9q-2.6,1.0 -3.7,3.9" fill="none" stroke="#000" stroke-width="0.85"/>
<text x="141.61" y="546.45" font-size="14.3" font-style="italic">μ</text>
<text x="150.60" y="543.85" font-size="16">−</text>
<text x="160.84" y="546.45" font-size="14.3" font-style="italic">p</text>
<text x="168.53" y="546.45" font-size="14.3" font-style="italic">π</text>
<text x="177.28" y="542.05" font-size="11">0</text>
<text x="664.40" y="36.50" font-size="14.3" font-style="italic">ν</text>
<path d="M665.40,27.90h5.4" stroke="#000" stroke-width="0.65" fill="none"/>
<text x="671.61" y="38.80" font-size="11.2" font-style="italic">μ</text>
<text x="680.59" y="36.50" font-size="14.3" font-style="italic">n</text>
<path d="M693.30,33.20h13.6M703.20,29.30q1.1,2.9 3.7,3.9q-2.6,1.0 -3.7,3.9" fill="none" stroke="#000" stroke-width="0.85"/>
<text x="712.31" y="36.50" font-size="14.3" font-style="italic">μ</text>
<text x="721.30" y="34.30" font-size="16">+</text>
<text x="732.09" y="36.50" font-size="14.3" font-style="italic">n</text>
<text x="740.13" y="36.50" font-size="14.3" font-style="italic">π</text>
<text x="749.30" y="33.90" font-size="16">−</text>
<text x="664.40" y="250.20" font-size="14.3" font-style="italic">ν</text>
<path d="M665.40,241.60h5.4" stroke="#000" stroke-width="0.65" fill="none"/>
<text x="671.61" y="252.50" font-size="11.2" font-style="italic">μ</text>
<text x="679.94" y="250.20" font-size="14.3" font-style="italic">p</text>
<path d="M691.80,246.90h13.6M701.70,243.00q1.1,2.9 3.7,3.9q-2.6,1.0 -3.7,3.9" fill="none" stroke="#000" stroke-width="0.85"/>
<text x="710.81" y="250.20" font-size="14.3" font-style="italic">μ</text>
<text x="719.80" y="248.00" font-size="16">+</text>
<text x="730.04" y="250.20" font-size="14.3" font-style="italic">p</text>
<text x="737.73" y="250.20" font-size="14.3" font-style="italic">π</text>
<text x="746.90" y="247.60" font-size="16">−</text>
<text x="506.80" y="464.40" font-size="14.3" font-style="italic">ν</text>
<path d="M507.80,455.80h5.4" stroke="#000" stroke-width="0.65" fill="none"/>
<text x="514.01" y="466.70" font-size="11.2" font-style="italic">μ</text>
<text x="522.34" y="464.40" font-size="14.3" font-style="italic">p</text>
<path d="M534.20,461.10h13.6M544.10,457.20q1.1,2.9 3.7,3.9q-2.6,1.0 -3.7,3.9" fill="none" stroke="#000" stroke-width="0.85"/>
<text x="553.21" y="464.40" font-size="14.3" font-style="italic">μ</text>
<text x="562.20" y="462.20" font-size="16">+</text>
<text x="572.99" y="464.40" font-size="14.3" font-style="italic">n</text>
<text x="581.03" y="464.40" font-size="14.3" font-style="italic">π</text>
<text x="589.78" y="460.00" font-size="11">0</text>
<g transform="translate(14.3,432.5) rotate(-90)">
<text x="-0.50" y="0.00" font-size="14.6">d</text>
<text x="7.66" y="0.00" font-size="14.6" font-style="italic">σ</text>
<path d="M15.6,3.6L23.2,-10.6" stroke="#000" stroke-width="0.75" fill="none"/>
<text x="24.00" y="0.60" font-size="16">(</text>
<text x="30.10" y="0.00" font-size="14.6">d</text>
<text x="37.14" y="0.00" font-size="14.6" font-style="italic">W</text>
<text x="51.60" y="0.00" font-size="14.6">d</text>
<text x="58.90" y="0.00" font-size="14.6" font-style="italic" textLength="11.2" lengthAdjust="spacingAndGlyphs">Q</text>
<text x="73.20" y="-5.60" font-size="10.5">2</text>
<text x="80.10" y="0.00" font-size="14.6">d</text>
<text x="91.60" y="0.00" font-size="14.6">cos</text>
<text x="116.28" y="0.00" font-size="14.6" font-style="italic">θ</text>
<text x="125.40" y="-4.10" font-size="10.0">*</text>
<text x="125.30" y="3.60" font-size="10.0" font-style="italic">π</text>
<text x="131.20" y="0.60" font-size="16">)</text>
<text x="143.80" y="0.00" font-size="14.6">[10</text>
<text x="164.05" y="-4.60" font-size="13">−</text>
<text x="171.50" y="-5.60" font-size="10.5">38</text>
<text x="191.00" y="0.00" font-size="14.6">cm</text>
<text x="208.10" y="-5.60" font-size="10.5">2</text>
<text x="219.10" y="1.60" font-size="14.6">·</text>
<text x="225.80" y="0.00" font-size="14.6" letter-spacing="0.3">GeV</text>
<text x="256.35" y="-4.60" font-size="13">−</text>
<text x="264.50" y="-5.60" font-size="10.5">3</text>
<text x="272.30" y="0.00" font-size="14.6">]</text>
</g>
<g transform="translate(415.1,432.4) rotate(-90)">
<text x="-0.50" y="0.00" font-size="14.6">d</text>
<text x="7.66" y="0.00" font-size="14.6" font-style="italic">σ</text>
<path d="M15.6,3.6L23.2,-10.6" stroke="#000" stroke-width="0.75" fill="none"/>
<text x="24.00" y="0.60" font-size="16">(</text>
<text x="30.10" y="0.00" font-size="14.6">d</text>
<text x="37.14" y="0.00" font-size="14.6" font-style="italic">W</text>
<text x="51.60" y="0.00" font-size="14.6">d</text>
<text x="58.90" y="0.00" font-size="14.6" font-style="italic" textLength="11.2" lengthAdjust="spacingAndGlyphs">Q</text>
<text x="73.20" y="-5.60" font-size="10.5">2</text>
<text x="80.10" y="0.00" font-size="14.6">d</text>
<text x="91.60" y="0.00" font-size="14.6">cos</text>
<text x="116.28" y="0.00" font-size="14.6" font-style="italic">θ</text>
<text x="125.40" y="-4.10" font-size="10.0">*</text>
<text x="125.30" y="3.60" font-size="10.0" font-style="italic">π</text>
<text x="131.20" y="0.60" font-size="16">)</text>
<text x="143.80" y="0.00" font-size="14.6">[10</text>
<text x="164.05" y="-4.60" font-size="13">−</text>
<text x="171.50" y="-5.60" font-size="10.5">38</text>
<text x="191.00" y="0.00" font-size="14.6">cm</text>
<text x="208.10" y="-5.60" font-size="10.5">2</text>
<text x="219.10" y="1.60" font-size="14.6">·</text>
<text x="225.80" y="0.00" font-size="14.6" letter-spacing="0.3">GeV</text>
<text x="256.35" y="-4.60" font-size="13">−</text>
<text x="264.50" y="-5.60" font-size="10.5">3</text>
<text x="272.30" y="0.00" font-size="14.6">]</text>
</g>
</svg></body></html>
